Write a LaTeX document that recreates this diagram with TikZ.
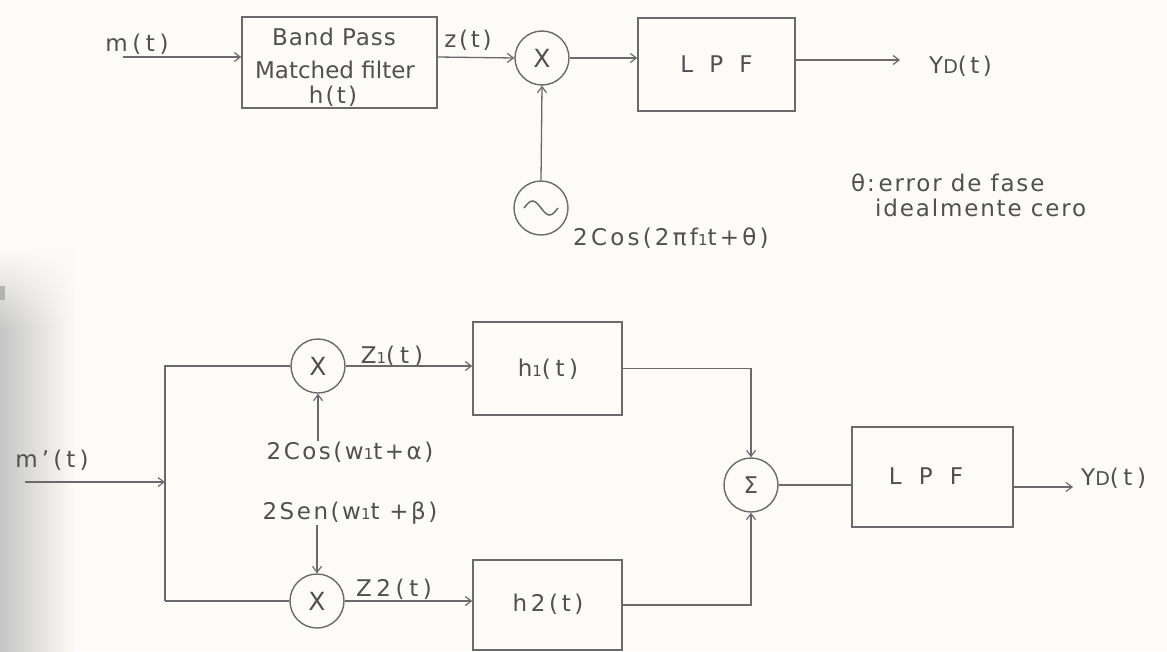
\documentclass[tikz,border=0pt]{standalone}
\usepackage{fontspec}
\setmainfont{DejaVu Sans}
\usetikzlibrary{arrows.meta,calc,fadings}
\definecolor{bg}{HTML}{FCFBF7}
\definecolor{ln}{HTML}{6A6A6A}
\definecolor{tx}{HTML}{505050}
\newcommand{\sone}{{\fontsize{15}{15}\selectfont 1}}
\tikzset{
  every node/.style={font=\fontsize{23}{27}\selectfont, text=tx},
  wire/.style={draw=ln, line width=1.3pt},
  arr/.style={wire, -{Straight Barb[length=6pt,width=9pt,line width=1.2pt]}},
  blockbox/.style={draw=ln, line width=1.5pt, inner sep=0pt, align=center},
  opcirc/.style={circle, draw=ln, line width=1.4pt, minimum size=54pt, inner sep=0pt},
  lbl/.style={inner sep=1pt},
  wide/.style={lbl, font=\fontsize{23}{27}\selectfont\addfontfeature{LetterSpace=#1}},
  wide/.default=12
}
\begin{document}
\begin{tikzpicture}[x=1pt,y=-1pt]
\fill[bg] (0,0) rectangle (1167,651);
\useasboundingbox (0,0) rectangle (1167,651);
\shade[left color=gray!45, right color=bg, path fading=north] (0,250) rectangle (75,330);
\shade[left color=gray!45, right color=bg] (0,330) rectangle (75,651);
\fill[gray!60] (0,286) rectangle (5,300);

% ---------- top system ----------
\node[blockbox, minimum width=195pt, minimum height=91pt] (bpf) at (339.5,62.5) {};
\node[wide=4] (bpt1) at (334,37) {Band Pass};
\node[lbl] (bpt2) at (335,70) {Matched filter};
\node[wide=10] (bpt3) at (333,96) {h(t)};
\node[opcirc, font=\fontsize{25}{27}\selectfont] (mult1) at (542,58) {X};
\node[blockbox, minimum width=157pt, minimum height=93pt] (lpf1) at (716.5,64.5) {L\hspace{0.7em}P\hspace{0.7em}F};
\node[opcirc] (osc) at (541,208) {};
\draw[ln, line width=1.5pt] ([xshift=-17pt]osc.center) sin +(8.5,-7) cos +(8.5,7) sin +(8.5,7) cos +(8.5,-7);

\coordinate (min) at (123,57);
\coordinate (yd1) at (900,60);
\node[wide=20] (mt) at (137,44) {m(t)};
\node[wide=12] (zt) at (468,40) {z(t)};
\node[wide=15, anchor=west] (ydl) at (928,66) {Y{\fontsize{19}{19}\selectfont D}(t)};
\node[wide=14, anchor=west] (oscl) at (572,238) {2Cos(2πf\sone t+θ)};
\node[wide=8, anchor=west] (err1) at (850,183) {θ:\,error de fase};
\node[wide=8, anchor=west] (err2) at (874,208) {idealmente cero};

\draw[arr] (min) -- (min -| bpf.west);
\draw[arr] (bpf.east |- min) -- (mult1.west);
\draw[arr] (mult1.east) -- (mult1.east -| lpf1.west);
\draw[arr] (osc.north) -- (mult1.south);
\draw[arr] (lpf1.east |- yd1) -- (yd1);

% ---------- bottom system ----------
\node[opcirc, font=\fontsize{25}{27}\selectfont] (mulA) at (318,366) {X};
\node[opcirc, font=\fontsize{25}{27}\selectfont] (mulB) at (317,601) {X};
\node[blockbox, minimum width=149pt, minimum height=93pt] (h1) at (547.5,368.5) {};
\node[wide=20] (h1t) at (548,369) {h\sone(t)};
\node[blockbox, minimum width=149pt, minimum height=90pt] (h2) at (547.5,605) {};
\node[wide=16] (h2t) at (548,604) {h2(t)};
\node[opcirc, minimum width=54pt, minimum height=54pt] (sum) at (751,485) {Σ};
\node[blockbox, minimum width=161pt, minimum height=100pt] (lpf2) at (932.5,477) {};
\node[lbl] (lpf2t) at (926,476) {L\hspace{0.75em}P\hspace{0.75em}F};

\coordinate (in2) at (25,482);
\coordinate (split) at (165,482);
\coordinate (ctop) at (165,366);
\coordinate (cbot) at (165,601);
\coordinate (yo2) at (1073,487);

\node[wide=18] (mp) at (52,460) {m'(t)};
\node[wide=11] (cosl) at (350,452) {2Cos(w\sone t+α)};
\node[wide=11] (sinl) at (350,513) {2Sen(w\sone t +β)};
\node[wide=22] (z1) at (392,356) {Z\sone(t)};
\node[wide=20] (z2) at (394,589) {Z2(t)};
\node[wide=20, anchor=west] (yol) at (1080,478) {Y{\fontsize{19}{19}\selectfont D}(t)};

\draw[arr] (in2) -- (split);
\draw[wire] (cbot) -- (ctop) -- (mulA.west);
\draw[wire] (cbot) -- (mulB.west);
\draw[arr] (mulA.east) -- (mulA.east -| h1.west);
\draw[arr] (mulB.east) -- (mulB.east -| h2.west);
\draw[arr] (mulA |- cosl.north) -- (mulA.south);
\draw[arr] (mulB |- sinl.south) -- (mulB.north);
\draw[arr] (h1.east) -| (sum.north);
\draw[arr] (h2.east) -| (sum.south);
\draw[wire] (sum.east) -- (sum.east -| lpf2.west);
\draw[arr] (lpf2.east |- yo2) -- (yo2);
\end{tikzpicture}
\end{document}
